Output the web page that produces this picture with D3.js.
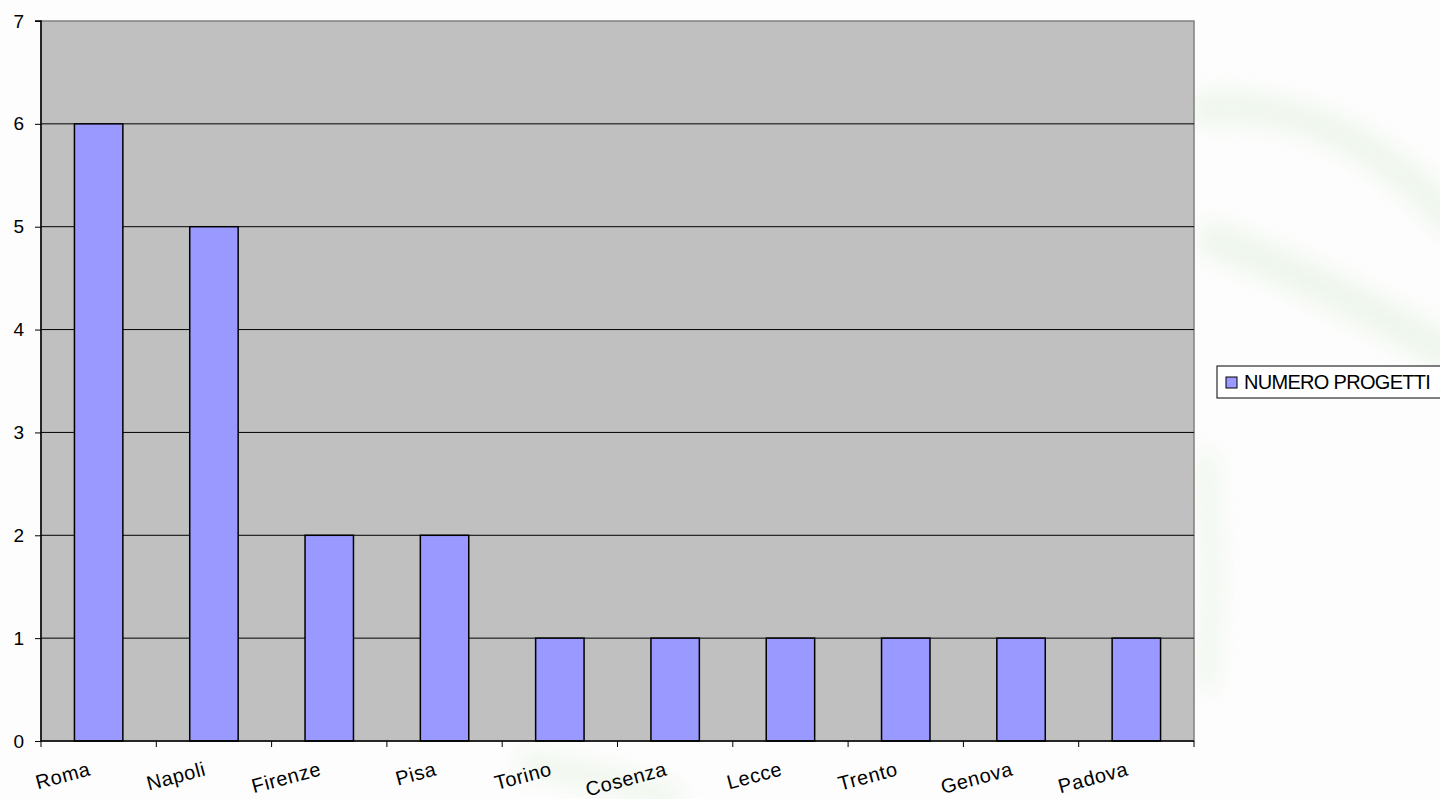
<!DOCTYPE html>
<html>
<head>
<meta charset="utf-8">
<script src="https://cdn.jsdelivr.net/npm/d3@7"></script>
<style>
  html, body { margin: 0; padding: 0; background: #fdfdfd; }
  svg { display: block; font-family: Arial, "Liberation Sans", sans-serif; }
</style>
</head>
<body>
<div id="chart"></div>
<script>
(function () {

const [WIDTH, HEIGHT] = [1440, 799];

const cities = ['Roma', 'Napoli', 'Firenze', 'Pisa', 'Torino', 'Cosenza', 'Lecce', 'Trento', 'Genova', 'Padova'];
const progetti = [6, 5, 2, 2, 1, 1, 1, 1, 1, 1];
const yTicks = [0, 1, 2, 3, 4, 5, 6, 7];
const seriesName = 'NUMERO PROGETTI';

const plot = { left: 41, right: 1194, top: 21, bottom: 741 };

const svg = d3.select('#chart').append('svg')
    .attr('width', WIDTH)
    .attr('height', HEIGHT)
    .attr('viewBox', `0 0 ${WIDTH} ${HEIGHT}`);

// faint green watermark swoosh behind everything
const defs = svg.append('defs');
defs.append('filter').attr('id', 'blur')
    .append('feGaussianBlur').attr('stdDeviation', 12);
const wm = svg.append('g')
    .attr('filter', 'url(#blur)')
    .attr('fill', 'none')
    .attr('stroke', '#d6ebcf')
    .attr('opacity', 0.4);
wm.append('path')
    .attr('d', 'M1190,110 C1300,95 1390,150 1460,230')
    .attr('stroke-width', 30);
wm.append('path')
    .attr('d', 'M1200,235 C1300,270 1390,320 1460,360')
    .attr('stroke-width', 34);
wm.append('path')
    .attr('d', 'M1205,450 C1210,520 1215,600 1205,690')
    .attr('stroke-width', 18);
wm.append('path')
    .attr('d', 'M520,760 C560,770 620,780 680,800')
    .attr('stroke-width', 22);

const x = d3.scaleBand()
    .domain(cities)
    .range([plot.left, plot.right])
    .paddingInner(0.58)
    .paddingOuter(0.29);

const xTicks = d3.scaleBand()
    .domain(cities)
    .range([plot.left, plot.right]);

const y = d3.scaleLinear()
    .domain([0, 7])
    .range([plot.bottom, plot.top]);

// plot area
svg.append('rect')
    .attr('x', plot.left)
    .attr('y', plot.top)
    .attr('width', plot.right - plot.left)
    .attr('height', plot.bottom - plot.top)
    .attr('fill', '#c0c0c0')
    .attr('stroke', '#808080')
    .attr('stroke-width', 1.5);

// gridlines
svg.append('g')
    .selectAll('line')
    .data(yTicks.filter((d) => d > 0 && d < 7))
    .enter()
    .append('line')
    .attr('x1', plot.left)
    .attr('x2', plot.right)
    .attr('y1', (d) => y(d))
    .attr('y2', (d) => y(d))
    .attr('stroke', '#000')
    .attr('stroke-width', 1);

// bars
svg.append('g')
    .selectAll('rect')
    .data(cities.map((c, i) => ({ city: c, value: progetti[i] })))
    .enter()
    .append('rect')
    .attr('x', (d) => x(d.city))
    .attr('y', (d) => y(d.value))
    .attr('width', x.bandwidth())
    .attr('height', (d) => y(0) - y(d.value))
    .attr('fill', '#9999ff')
    .attr('stroke', '#000')
    .attr('stroke-width', 1.5);

// y axis
const yAxis = svg.append('g')
    .attr('transform', `translate(${plot.left},0)`)
    .call(d3.axisLeft(y).tickValues(yTicks).tickSize(6).tickPadding(11).tickFormat(d3.format('d')));
yAxis.select('.domain').attr('stroke', '#000').attr('stroke-width', 1.5).attr('d', `M-6,${plot.top}H0V${plot.bottom}`);
yAxis.selectAll('.tick line').attr('stroke', '#000');
yAxis.selectAll('.tick text')
    .attr('font-size', 19)
    .attr('fill', '#000');

// x axis
const xAxisG = svg.append('g')
    .attr('transform', `translate(0,${plot.bottom})`);
xAxisG.append('line')
    .attr('x1', plot.left).attr('x2', plot.right)
    .attr('stroke', '#000').attr('stroke-width', 1.5);
xAxisG.selectAll('.xtick')
    .data(cities.concat(['__end']))
    .enter()
    .append('line')
    .attr('x1', (d) => d === '__end' ? plot.right : xTicks(d))
    .attr('x2', (d) => d === '__end' ? plot.right : xTicks(d))
    .attr('y1', 0).attr('y2', 6)
    .attr('stroke', '#000');

xAxisG.selectAll('.xlabel')
    .data(cities)
    .enter()
    .append('text')
    .attr('transform', (d) => `translate(${xTicks(d) + xTicks.bandwidth() / 2 - 7},${34}) rotate(-15)`)
    .attr('text-anchor', 'end')
    .attr('font-size', 20)
    .attr('letter-spacing', 0.6)
    .attr('fill', '#000')
    .text((d) => d);

// legend
const legend = svg.append('g').attr('transform', 'translate(1217,366)');
legend.append('rect')
    .attr('x', 0).attr('y', 0)
    .attr('width', 240).attr('height', 32)
    .attr('fill', '#fff')
    .attr('stroke', '#000')
    .attr('stroke-width', 1);
legend.append('rect')
    .attr('x', 9).attr('y', 11)
    .attr('width', 11).attr('height', 11)
    .attr('fill', '#9999ff')
    .attr('stroke', '#000');
legend.append('text')
    .attr('x', 27).attr('y', 23)
    .attr('font-size', 20)
    .attr('letter-spacing', -0.7)
    .attr('fill', '#000')
    .text(seriesName);

})();
</script>
</body>
</html>
